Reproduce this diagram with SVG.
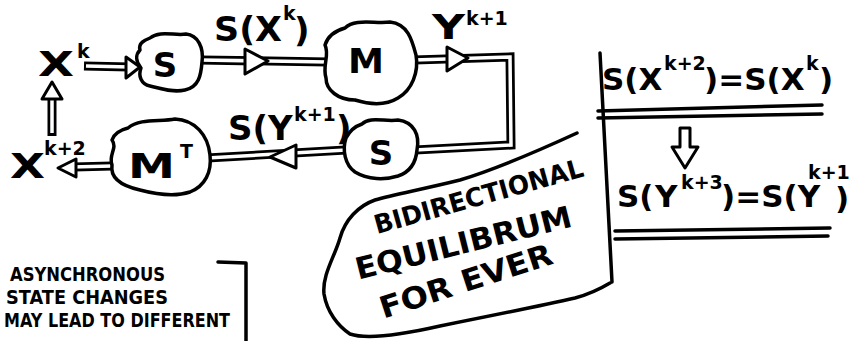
<svg xmlns="http://www.w3.org/2000/svg" width="852" height="341" viewBox="0 0 852 341">
<style>
.ln{fill:none;stroke:#000;stroke-width:3.5;stroke-linecap:round;stroke-linejoin:round}
.blob{fill:#fff;stroke:#000;stroke-width:3.5;stroke-linejoin:round}
.dbo{fill:none;stroke:#000;stroke-width:9;stroke-linejoin:miter}
.dbi{fill:none;stroke:#fff;stroke-width:3.5;stroke-linejoin:miter}
.head{fill:#fff;stroke:#000;stroke-width:3;stroke-linejoin:round}
text{font-family:"DejaVu Sans","Liberation Sans",sans-serif;fill:#000;font-weight:bold}
.big{font-size:34px}
.sup{font-size:19px}
.eq{font-size:31px}
.note{font-size:19px}
</style>
<rect width="852" height="341" fill="#fff"/>

<g id="connectors">
  <path class="dbo" d="M84,66 L130,67"/>
  <path class="dbi" d="M86,66 L130,67"/>
  <polygon class="head" points="126,57 140,67 126,78"/>
  <path class="dbo" d="M200,60 L328,62"/>
  <path class="dbi" d="M200,60 L328,62"/>
  <polygon class="head" points="245,49 268,61 245,74"/>
  <polyline class="dbo" points="414,60 510,57 511,145 415,150"/>
  <polyline class="dbi" points="414,60 510,57 511,145 415,150"/>
  <polygon class="head" points="447,47 468,58 447,71"/>
  <path class="dbo" d="M346,150 L207,158"/>
  <path class="dbi" d="M346,150 L207,158"/>
  <polygon class="head" points="270,157 296,145 296,168"/>
  <path class="dbo" d="M112,166 L74,167"/>
  <path class="dbi" d="M112,166 L72,167"/>
  <polygon class="head" points="58,168 76,159 76,177"/>
  <path class="dbo" d="M52,136 L52,97"/>
  <path class="dbi" d="M52,133 L52,97"/>
  <polygon class="head" points="52,82 42,99 62,99"/>
</g>

<g id="node-xk">
  <text x="38" y="76" class="big" textLength="36" lengthAdjust="spacingAndGlyphs">X</text>
  <text x="77" y="58" class="sup">k</text>
</g>

<g id="node-s1">
  <path class="blob" d="M150,38 C160,30 175,36 186,34 C198,35 204,48 202,62 C201,75 199,87 185,90 C172,93 160,88 150,86 C141,84 138,76 141,68 C136,62 135,55 140,50 C138,43 145,40 150,38 Z"/>
  <text x="165" y="77" class="big" font-size="38" text-anchor="middle">S</text>
</g>

<g id="label-sxk">
  <text x="214" y="41" class="big" textLength="68" lengthAdjust="spacingAndGlyphs">S(X</text>
  <text x="283" y="20" class="sup">k</text>
  <text x="294" y="42" class="big">)</text>
</g>

<g id="node-m">
  <path class="blob" d="M345,28 C355,18 375,24 390,22 C408,24 412,40 416,55 C419,72 412,90 398,98 C385,106 368,104 355,100 C338,100 326,90 326,78 C322,65 330,55 325,45 C328,35 338,30 345,28 Z"/>
  <text x="348" y="73" class="big" textLength="36" lengthAdjust="spacingAndGlyphs">M</text>
</g>

<g id="label-yk1">
  <text x="432" y="39" class="big" textLength="33" lengthAdjust="spacingAndGlyphs">Y</text>
  <text x="466" y="25" class="sup" font-size="17">k+1</text>
</g>

<g id="node-s2">
  <path class="blob" d="M362,124 C370,116 385,122 398,120 C414,122 420,135 417,150 C416,162 410,172 398,176 C385,180 368,180 355,172 C345,165 342,150 346,138 C350,130 356,126 362,124 Z"/>
  <text x="381" y="165" class="big" font-size="38" text-anchor="middle">S</text>
</g>

<g id="label-syk1">
  <text x="228" y="140" class="big" font-size="30">S(Y</text>
  <text x="294" y="121" class="sup" font-size="15">k+1</text>
  <text x="336" y="140" class="big" font-size="30">)</text>
</g>

<g id="node-mt">
  <path class="blob" d="M128,128 C140,118 160,122 175,119 C195,120 208,135 210,155 C212,172 205,186 190,192 C175,197 155,194 140,190 C122,186 110,178 112,165 C108,155 118,148 112,140 C114,134 120,130 128,128 Z"/>
  <text x="128" y="178" class="big" textLength="47" lengthAdjust="spacingAndGlyphs">M</text>
  <text x="180" y="158" class="sup" font-size="22">T</text>
</g>

<g id="node-xk2">
  <text x="10" y="178" class="big" textLength="35" lengthAdjust="spacingAndGlyphs">X</text>
  <text x="44" y="155" class="sup" font-size="17">k+2</text>
</g>

<g id="equations">
  <path class="ln" d="M600,53 L612,282" stroke-width="4"/>
  <text class="eq" x="602" y="90">S(X</text>
  <text class="sup" font-size="17" x="664" y="70">k+2</text>
  <text class="eq" x="704" y="90">)=S(X</text>
  <text class="sup" font-size="18" x="806" y="70">k</text>
  <text class="eq" x="819" y="90">)</text>
  <path class="ln" d="M598,111 L822,105"/>
  <path class="ln" d="M598,118 L822,114"/>
  <polygon class="head" points="680,128 690,128 690,147 698,147 685,168 672,147 680,147"/>
  <text class="eq" font-size="29" x="617" y="207">S(</text>
  <text class="eq" x="655" y="207">Y</text>
  <text class="sup" font-size="16" x="681" y="189">k+3</text>
  <text class="eq" font-size="25" x="721" y="207">)=S(Y</text>
  <text class="sup" font-size="11" x="808" y="179">k+1</text>
  <text class="eq" font-size="19" x="835" y="209">)</text>
  <path class="ln" d="M615,231 L830,228"/>
  <path class="ln" d="M615,239 L828,236"/>
</g>

<g id="equilibrium">
  <path class="ln" d="M577,133 C540,150 500,168 460,180 C420,190 395,194 375,200 C358,206 345,220 340,238 C335,256 322,275 324,294 C327,312 338,326 350,334 C368,340 405,334 440,326 C490,316 540,306 575,298 C590,294 600,289 610,283"/>
  <text font-size="26" text-anchor="middle" transform="translate(481,205) rotate(-15.6)" textLength="216" lengthAdjust="spacingAndGlyphs">BIDIRECTIONAL</text>
  <text font-size="30" text-anchor="middle" transform="translate(466,253) rotate(-14)" textLength="222" lengthAdjust="spacingAndGlyphs">EQUILIBRUM</text>
  <text font-size="30" text-anchor="middle" transform="translate(469,291) rotate(-18)" textLength="180" lengthAdjust="spacingAndGlyphs">FOR EVER</text>
</g>

<g id="note">
  <path class="ln" d="M218,262 L246,263 L246,343"/>
  <text class="note" x="10" y="281" textLength="155" lengthAdjust="spacingAndGlyphs">ASYNCHRONOUS</text>
  <text class="note" x="6" y="304" textLength="162" lengthAdjust="spacingAndGlyphs">STATE CHANGES</text>
  <text class="note" x="4" y="327" textLength="226" lengthAdjust="spacingAndGlyphs">MAY LEAD TO DIFFERENT</text>
</g>
</svg>
